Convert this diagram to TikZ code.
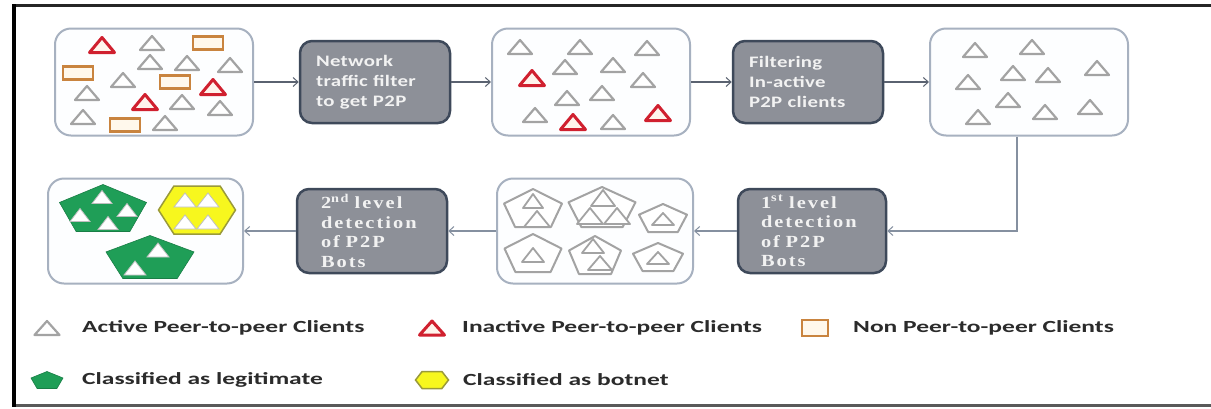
\documentclass[tikz,border=0pt]{standalone}
\usepackage{fontspec}
\usetikzlibrary{arrows.meta}
\newfontfamily\legfont[FakeStretch=1.5]{Carlito}
\newfontfamily\procsans[FakeStretch=1.3,LetterSpace=2]{Carlito}
\newfontfamily\procserif[FakeStretch=1.2,LetterSpace=12]{Liberation Serif}
\definecolor{cboxline}{HTML}{A7B1C0}
\definecolor{cboxfill}{HTML}{FDFEFF}
\definecolor{pline}{HTML}{3E495A}
\definecolor{pfill}{HTML}{8D9098}
\definecolor{ptext}{HTML}{F2F2F2}
\definecolor{arrcol}{HTML}{5A6270}
\definecolor{arrcolb}{HTML}{8590A0}
\definecolor{trigray}{HTML}{A3A3A3}
\definecolor{trired}{HTML}{D0202F}
\definecolor{trifill}{HTML}{FFF4EC}
\definecolor{orect}{HTML}{C9843F}
\definecolor{orectfill}{HTML}{FFF8EC}
\definecolor{legg}{HTML}{1F9E57}
\definecolor{legy}{HTML}{F7F71E}
\definecolor{legyline}{HTML}{9A9A3A}
\definecolor{legtxt}{HTML}{2B2B2B}
\newcommand\mytri[5]{\draw[#1] (#2-#4/2,#3+#5/2) -- (#2+#4/2,#3+#5/2) -- (#2,#3-#5/2) -- cycle;}
\newcommand\myrect[5]{\draw[#1] (#2-#4/2,#3-#5/2) rectangle (#2+#4/2,#3+#5/2);}
\newcommand\mypent[5]{\draw[#1] (#2,#3-#5/2) -- (#2+#4/2,#3-0.118*#5) -- (#2+0.309*#4,#3+#5/2) -- (#2-0.309*#4,#3+#5/2) -- (#2-#4/2,#3-0.118*#5) -- cycle;}
\newcommand\myhex[5]{\draw[#1] (#2-#4/2,#3) -- (#2-0.3*#4,#3-#5/2) -- (#2+0.3*#4,#3-#5/2) -- (#2+#4/2,#3) -- (#2+0.3*#4,#3+#5/2) -- (#2-0.3*#4,#3+#5/2) -- cycle;}
\tikzset{
  cbox/.style={draw=cboxline, line width=2pt, fill=cboxfill, rounded corners=16pt,
    minimum width=198pt, minimum height=107pt, inner sep=0pt},
  pbox/.style={draw=pline, line width=2.5pt, fill=pfill, rounded corners=12pt,
    minimum width=150pt, minimum height=82pt, text=ptext, align=left, inner sep=0pt},
  psans/.style={font=\procsans\bfseries\fontsize{16}{20}\selectfont, text width=118pt},
  pserif/.style={font=\procserif\bfseries\fontsize{17}{19.5}\selectfont, text width=102pt},
  arr/.style={draw=arrcol, line width=1.2pt, -{Straight Barb[length=5pt,width=9pt,line width=1pt]}},
  arrb/.style={draw=arrcolb, line width=1.4pt, -{Straight Barb[length=5pt,width=9pt,line width=1pt]}},
  gtri/.style={draw=trigray, line width=2.2pt, fill=white, line join=round},
  rtri/.style={draw=trired, line width=3pt, fill=trifill, line join=round},
  orc/.style={draw=orect, line width=2.5pt, fill=orectfill},
  gpent/.style={draw=trigray, line width=2pt, fill=white, line join=round},
  stri/.style={draw=trigray, line width=1.8pt, fill=white, line join=round},
  wtri/.style={draw=black!25, line width=0.8pt, fill=white},
  greenp/.style={fill=legg, draw=legg!80!black, line width=0.6pt},
  yellh/.style={fill=legy, draw=legyline, line width=1.5pt},
  legtext/.style={font=\legfont\bfseries\fontsize{17}{20}\selectfont, text=legtxt, anchor=west, inner sep=0pt}
}
\begin{document}
\begin{tikzpicture}[x=1pt,y=-1pt]
\useasboundingbox (0,0) rectangle (1211,408);
\fill[white] (0,0) rectangle (1211,408);
% frame
\draw[line width=3pt, black!85] (12,5) -- (1211,5);
\draw[line width=3pt, black!65] (12,405.5) -- (1211,405.5);
\draw[line width=4pt, black] (14,4) -- (14,407);

% content boxes
\node[cbox] (b1) at (154,82) {};
\node[cbox] (b2) at (591,82) {};
\node[cbox] (b3) at (1029,82) {};
\node[cbox, minimum width=196pt, minimum height=105pt] (b4) at (595,231) {};
\node[cbox, minimum width=195pt, minimum height=105pt] (b5) at (145.5,231) {};

% process boxes
\node[pbox, psans] (p1) at (375,82) {Network\\traffic filter\\to get P2P};
\node[pbox, psans] (p2) at (808,82) {Filtering\\In-active\\P2P clients};
\node[pbox, pserif, minimum width=148pt, minimum height=84pt] (p3) at (812,231) {1\textsuperscript{st} level\\detection\\of P2P\\Bots};
\node[pbox, pserif, minimum height=84pt] (p4) at (372,231) {2\textsuperscript{nd} level\\detection\\of P2P\\Bots};

% connectors
\draw[arr] (b1.east) -- (p1.west);
\draw[arr] (p1.east) -- (b2.west);
\draw[arr] (b2.east) -- (p2.west);
\draw[arr] (p2.east) -- (b3.west);
\coordinate (turn) at (1017,231);
\draw[arrb] (b3.south -| turn) -- (turn) -- (p3.east);
\draw[arrb] (p3.west) -- (b4.east);
\draw[arrb] (b4.west) -- (p4.east);
\draw[arrb] (p4.west) -- (b5.east);

% box 1 contents
\mytri{gtri}{152}{43}{24}{14}
\mytri{gtri}{150}{62}{24}{14}
\mytri{gtri}{187}{63}{24}{14}
\mytri{gtri}{230}{65}{24}{14}
\mytri{gtri}{123}{80}{24}{14}
\mytri{gtri}{87}{93}{24}{14}
\mytri{gtri}{182}{102}{24}{14}
\mytri{gtri}{220}{108}{24}{14}
\mytri{gtri}{83}{117}{24}{14}
\mytri{gtri}{165}{123}{24}{14}
\mytri{rtri}{102}{45}{25}{15}
\mytri{rtri}{213}{87}{25}{15}
\mytri{rtri}{145}{102}{25}{15}
\myrect{orc}{208}{43}{30}{13}
\myrect{orc}{78}{73}{30}{13}
\myrect{orc}{175}{82}{30}{13}
\myrect{orc}{125}{125}{30}{13}

% box 2 contents
\mytri{gtri}{520}{47}{24}{14}
\mytri{gtri}{580}{47}{24}{14}
\mytri{gtri}{647}{48}{24}{14}
\mytri{gtri}{565}{67}{24}{14}
\mytri{gtri}{613}{65}{24}{14}
\mytri{gtri}{643}{80}{24}{14}
\mytri{gtri}{567}{98}{24}{14}
\mytri{gtri}{602}{93}{24}{14}
\mytri{gtri}{535}{115}{24}{14}
\mytri{gtri}{613}{122}{24}{14}
\mytri{rtri}{532}{78}{25}{15}
\mytri{rtri}{573}{122}{25}{15}
\mytri{rtri}{658}{113}{25}{15}

% box 3 contents
\mytri{gtri}{975}{50}{24}{14}
\mytri{gtri}{1032}{47}{24}{14}
\mytri{gtri}{968}{82}{24}{14}
\mytri{gtri}{1013}{73}{24}{14}
\mytri{gtri}{1048}{75}{24}{14}
\mytri{gtri}{1097}{68}{24}{14}
\mytri{gtri}{1008}{100}{24}{14}
\mytri{gtri}{978}{117}{24}{14}
\mytri{gtri}{1045}{112}{24}{14}
\mytri{gtri}{1090}{107}{24}{14}

% box 4 contents
\mypent{gpent}{533}{208}{58}{38}
\mytri{stri}{533}{201}{20}{14}
\mytri{stri}{537}{219}{26}{16}
\mypent{gpent}{602}{207}{67}{40}
\mytri{stri}{603}{198}{24}{16}
\mytri{stri}{590}{216}{26}{16}
\mytri{stri}{617}{216}{26}{16}
\mypent{gpent}{663}{218}{48}{28}
\mytri{stri}{663}{219}{22}{12}
\mypent{gpent}{533}{253}{57}{38}
\mytri{stri}{533}{255}{22}{14}
\mypent{gpent}{595}{255}{52}{38}
\mytri{stri}{593}{246}{22}{14}
\mytri{stri}{600}{263}{24}{14}
\mypent{gpent}{658}{257}{50}{28}
\mytri{stri}{658}{258}{22}{12}

% box 5 contents
\mypent{greenp}{103}{208}{87}{47}
\mytri{wtri}{102}{197}{20}{13}
\mytri{wtri}{80}{215}{20}{13}
\mytri{wtri}{127}{210}{20}{13}
\mytri{wtri}{108}{223}{20}{13}
\myhex{yellh}{197}{210}{77}{48}
\mytri{wtri}{185}{200}{22}{14}
\mytri{wtri}{208}{200}{22}{14}
\mytri{wtri}{185}{222}{22}{14}
\mytri{wtri}{208}{222}{22}{14}
\mypent{greenp}{150}{257}{88}{43}
\mytri{wtri}{158}{250}{22}{14}
\mytri{wtri}{135}{268}{22}{14}

% legend
\mytri{gtri}{47}{328}{25}{14}
\node[legtext] (l1) at (82,328) {Active Peer-to-peer Clients};
\mytri{rtri}{432}{328}{25}{14}
\node[legtext] (l2) at (462,328) {Inactive Peer-to-peer Clients};
\myrect{orc}{815}{328}{26}{16}
\node[legtext] (l3) at (853,328) {Non Peer-to-peer Clients};
\mypent{greenp}{47}{380}{32}{17}
\node[legtext] (l4) at (82,380) {Classified as legitimate};
\myhex{yellh}{432}{380}{33}{17}
\node[legtext] (l5) at (463,380) {Classified as botnet};
\end{tikzpicture}
\end{document}
